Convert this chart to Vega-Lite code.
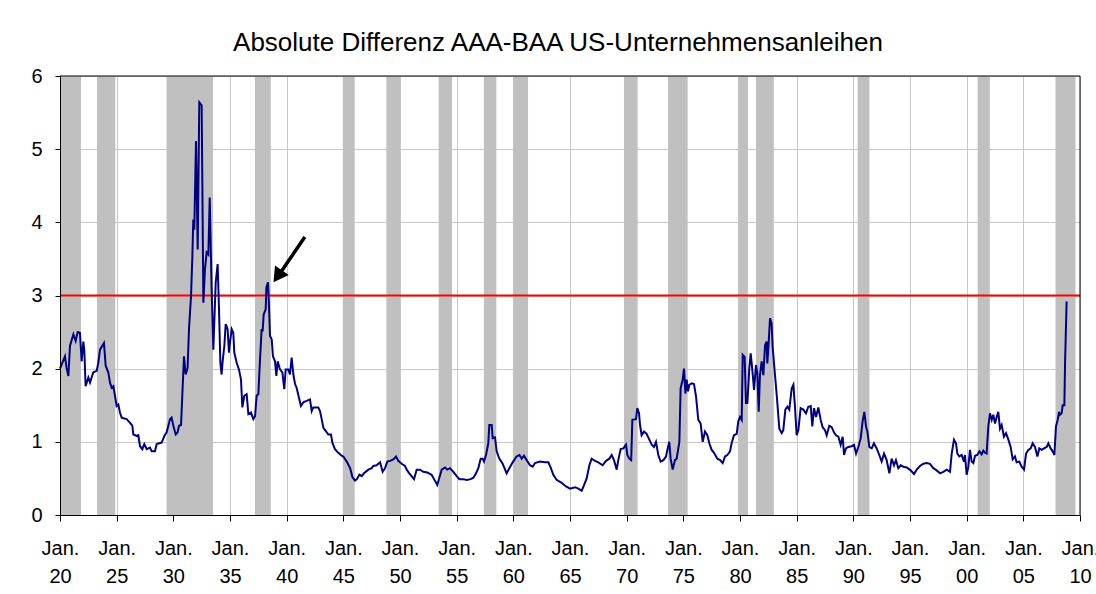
{
  "$schema": "https://vega.github.io/schema/vega-lite/v6.json",
  "width": 1020,
  "height": 439,
  "autosize": {"type": "none"},
  "padding": {"left": 60, "top": 76, "right": 16, "bottom": 79},
  "background": "white",
  "title": {
    "text": "Absolute Differenz AAA-BAA US-Unternehmensanleihen",
    "font": "Liberation Sans",
    "fontSize": 26,
    "fontWeight": "normal",
    "color": "black",
    "anchor": "middle",
    "frame": "group",
    "dx": -12,
    "baseline": "alphabetic",
    "offset": -11
  },
  "config": {
    "view": {"stroke": null},
    "axis": {"labelFont": "Liberation Sans", "labelColor": "black", "title": null}
  },
  "datasets": {
    "recessions": [
      {"start": 1920.0, "end": 1921.85},
      {"start": 1923.27, "end": 1924.88},
      {"start": 1929.4, "end": 1933.5},
      {"start": 1937.2, "end": 1938.6},
      {"start": 1944.95, "end": 1946.0},
      {"start": 1948.8, "end": 1950.03},
      {"start": 1953.41, "end": 1954.59},
      {"start": 1957.4, "end": 1958.5},
      {"start": 1960.0, "end": 1961.3},
      {"start": 1969.76, "end": 1970.97},
      {"start": 1973.65, "end": 1975.38},
      {"start": 1979.83, "end": 1980.7},
      {"start": 1981.41, "end": 1982.98},
      {"start": 1990.38, "end": 1991.42},
      {"start": 2000.97, "end": 2002.04},
      {"start": 2007.84, "end": 2009.6}
    ],
    "series": [
      {"t": 1920.0, "v": 2.0}, {"t": 1920.15, "v": 2.06}, {"t": 1920.44, "v": 2.17}, {"t": 1920.58, "v": 2.01},
      {"t": 1920.74, "v": 1.9}, {"t": 1920.88, "v": 2.31}, {"t": 1921.18, "v": 2.47}, {"t": 1921.38, "v": 2.38},
      {"t": 1921.56, "v": 2.5}, {"t": 1921.76, "v": 2.49}, {"t": 1921.91, "v": 2.1}, {"t": 1922.06, "v": 2.37},
      {"t": 1922.15, "v": 2.24}, {"t": 1922.26, "v": 1.76}, {"t": 1922.5, "v": 1.88}, {"t": 1922.65, "v": 1.81},
      {"t": 1922.79, "v": 1.88}, {"t": 1922.94, "v": 1.95}, {"t": 1923.24, "v": 1.97}, {"t": 1923.38, "v": 2.08},
      {"t": 1923.53, "v": 2.26}, {"t": 1923.88, "v": 2.35}, {"t": 1924.03, "v": 2.04}, {"t": 1924.26, "v": 1.95},
      {"t": 1924.41, "v": 1.81}, {"t": 1924.56, "v": 1.74}, {"t": 1924.71, "v": 1.76}, {"t": 1924.85, "v": 1.63},
      {"t": 1925.0, "v": 1.49}, {"t": 1925.15, "v": 1.51}, {"t": 1925.29, "v": 1.4}, {"t": 1925.44, "v": 1.33},
      {"t": 1925.88, "v": 1.31}, {"t": 1926.18, "v": 1.26}, {"t": 1926.38, "v": 1.22}, {"t": 1926.47, "v": 1.1},
      {"t": 1926.76, "v": 1.08}, {"t": 1926.91, "v": 1.09}, {"t": 1927.06, "v": 0.94}, {"t": 1927.26, "v": 0.9},
      {"t": 1927.44, "v": 0.97}, {"t": 1927.65, "v": 0.9}, {"t": 1927.94, "v": 0.92}, {"t": 1928.09, "v": 0.87},
      {"t": 1928.38, "v": 0.87}, {"t": 1928.53, "v": 0.97}, {"t": 1928.97, "v": 0.99}, {"t": 1929.21, "v": 1.08},
      {"t": 1929.41, "v": 1.13}, {"t": 1929.71, "v": 1.31}, {"t": 1929.85, "v": 1.33}, {"t": 1930.0, "v": 1.22},
      {"t": 1930.21, "v": 1.1}, {"t": 1930.38, "v": 1.13}, {"t": 1930.5, "v": 1.22}, {"t": 1930.68, "v": 1.23},
      {"t": 1930.79, "v": 1.63}, {"t": 1930.94, "v": 2.17}, {"t": 1931.09, "v": 1.92}, {"t": 1931.26, "v": 2.01},
      {"t": 1931.38, "v": 2.54}, {"t": 1931.56, "v": 2.99}, {"t": 1931.68, "v": 3.54}, {"t": 1931.76, "v": 4.04},
      {"t": 1931.85, "v": 3.9}, {"t": 1932.0, "v": 5.11}, {"t": 1932.15, "v": 3.63}, {"t": 1932.29, "v": 5.64},
      {"t": 1932.5, "v": 5.6}, {"t": 1932.65, "v": 2.9}, {"t": 1932.79, "v": 3.36}, {"t": 1932.94, "v": 3.59},
      {"t": 1933.09, "v": 3.56}, {"t": 1933.21, "v": 4.34}, {"t": 1933.38, "v": 3.08}, {"t": 1933.53, "v": 2.26},
      {"t": 1933.74, "v": 3.18}, {"t": 1933.91, "v": 3.43}, {"t": 1934.03, "v": 2.81}, {"t": 1934.15, "v": 2.08},
      {"t": 1934.26, "v": 1.92}, {"t": 1934.35, "v": 2.1}, {"t": 1934.5, "v": 2.31}, {"t": 1934.62, "v": 2.61},
      {"t": 1934.79, "v": 2.54}, {"t": 1934.91, "v": 2.22}, {"t": 1935.0, "v": 2.36}, {"t": 1935.15, "v": 2.54},
      {"t": 1935.29, "v": 2.49}, {"t": 1935.38, "v": 2.22}, {"t": 1935.59, "v": 2.08}, {"t": 1935.79, "v": 1.99},
      {"t": 1935.97, "v": 1.85}, {"t": 1936.09, "v": 1.47}, {"t": 1936.26, "v": 1.63}, {"t": 1936.47, "v": 1.65},
      {"t": 1936.62, "v": 1.38}, {"t": 1936.85, "v": 1.4}, {"t": 1937.06, "v": 1.31}, {"t": 1937.21, "v": 1.35},
      {"t": 1937.35, "v": 1.63}, {"t": 1937.5, "v": 1.65}, {"t": 1937.65, "v": 2.13}, {"t": 1937.79, "v": 2.54},
      {"t": 1937.88, "v": 2.51}, {"t": 1937.97, "v": 2.74}, {"t": 1938.15, "v": 2.81}, {"t": 1938.21, "v": 3.11},
      {"t": 1938.35, "v": 3.18}, {"t": 1938.44, "v": 2.86}, {"t": 1938.53, "v": 2.45}, {"t": 1938.68, "v": 2.4},
      {"t": 1938.79, "v": 2.17}, {"t": 1938.97, "v": 2.1}, {"t": 1939.09, "v": 1.9}, {"t": 1939.21, "v": 2.1},
      {"t": 1939.41, "v": 1.99}, {"t": 1939.62, "v": 1.95}, {"t": 1939.79, "v": 1.72}, {"t": 1939.91, "v": 1.99},
      {"t": 1940.15, "v": 1.99}, {"t": 1940.29, "v": 1.92}, {"t": 1940.44, "v": 2.15}, {"t": 1940.59, "v": 1.92},
      {"t": 1940.74, "v": 1.79}, {"t": 1940.88, "v": 1.74}, {"t": 1941.09, "v": 1.6}, {"t": 1941.26, "v": 1.49},
      {"t": 1941.47, "v": 1.54}, {"t": 1941.76, "v": 1.56}, {"t": 1942.06, "v": 1.58}, {"t": 1942.21, "v": 1.42},
      {"t": 1942.35, "v": 1.47}, {"t": 1942.56, "v": 1.47}, {"t": 1942.79, "v": 1.47}, {"t": 1942.94, "v": 1.42},
      {"t": 1943.09, "v": 1.31}, {"t": 1943.24, "v": 1.19}, {"t": 1943.44, "v": 1.15}, {"t": 1943.68, "v": 1.1},
      {"t": 1943.91, "v": 1.1}, {"t": 1944.03, "v": 0.99}, {"t": 1944.26, "v": 0.9}, {"t": 1944.56, "v": 0.85},
      {"t": 1944.85, "v": 0.81}, {"t": 1945.0, "v": 0.8}, {"t": 1945.3, "v": 0.73}, {"t": 1945.6, "v": 0.64},
      {"t": 1945.8, "v": 0.52}, {"t": 1946.03, "v": 0.47}, {"t": 1946.2, "v": 0.49}, {"t": 1946.41, "v": 0.55},
      {"t": 1946.62, "v": 0.53}, {"t": 1946.82, "v": 0.57}, {"t": 1947.21, "v": 0.62}, {"t": 1947.5, "v": 0.64},
      {"t": 1947.65, "v": 0.67}, {"t": 1947.94, "v": 0.68}, {"t": 1948.24, "v": 0.72}, {"t": 1948.47, "v": 0.59},
      {"t": 1948.68, "v": 0.64}, {"t": 1948.88, "v": 0.73}, {"t": 1949.12, "v": 0.74}, {"t": 1949.41, "v": 0.76},
      {"t": 1949.65, "v": 0.8}, {"t": 1949.85, "v": 0.74}, {"t": 1950.15, "v": 0.7}, {"t": 1950.44, "v": 0.67},
      {"t": 1950.59, "v": 0.62}, {"t": 1950.82, "v": 0.57}, {"t": 1951.24, "v": 0.49}, {"t": 1951.47, "v": 0.62},
      {"t": 1951.76, "v": 0.62}, {"t": 1952.06, "v": 0.59}, {"t": 1952.41, "v": 0.58}, {"t": 1952.79, "v": 0.55},
      {"t": 1953.0, "v": 0.49}, {"t": 1953.29, "v": 0.41}, {"t": 1953.47, "v": 0.51}, {"t": 1953.68, "v": 0.62},
      {"t": 1953.97, "v": 0.65}, {"t": 1954.18, "v": 0.62}, {"t": 1954.41, "v": 0.64}, {"t": 1954.71, "v": 0.59},
      {"t": 1955.0, "v": 0.53}, {"t": 1955.24, "v": 0.49}, {"t": 1955.59, "v": 0.49}, {"t": 1955.88, "v": 0.48},
      {"t": 1956.24, "v": 0.49}, {"t": 1956.47, "v": 0.51}, {"t": 1956.71, "v": 0.57}, {"t": 1956.91, "v": 0.64},
      {"t": 1957.12, "v": 0.77}, {"t": 1957.29, "v": 0.77}, {"t": 1957.41, "v": 0.73}, {"t": 1957.59, "v": 0.82},
      {"t": 1957.79, "v": 0.98}, {"t": 1957.88, "v": 1.23}, {"t": 1958.09, "v": 1.23}, {"t": 1958.18, "v": 1.05},
      {"t": 1958.38, "v": 1.06}, {"t": 1958.53, "v": 0.87}, {"t": 1958.76, "v": 0.77}, {"t": 1959.06, "v": 0.7},
      {"t": 1959.41, "v": 0.57}, {"t": 1959.65, "v": 0.64}, {"t": 1959.94, "v": 0.72}, {"t": 1960.29, "v": 0.8},
      {"t": 1960.53, "v": 0.82}, {"t": 1960.74, "v": 0.77}, {"t": 1960.94, "v": 0.81}, {"t": 1961.18, "v": 0.75},
      {"t": 1961.47, "v": 0.68}, {"t": 1961.71, "v": 0.66}, {"t": 1961.91, "v": 0.71}, {"t": 1962.35, "v": 0.73},
      {"t": 1962.79, "v": 0.72}, {"t": 1963.09, "v": 0.72}, {"t": 1963.29, "v": 0.65}, {"t": 1963.53, "v": 0.55},
      {"t": 1963.82, "v": 0.48}, {"t": 1964.26, "v": 0.44}, {"t": 1964.65, "v": 0.39}, {"t": 1965.0, "v": 0.36},
      {"t": 1965.44, "v": 0.38}, {"t": 1965.74, "v": 0.36}, {"t": 1966.03, "v": 0.33}, {"t": 1966.24, "v": 0.41},
      {"t": 1966.47, "v": 0.5}, {"t": 1966.71, "v": 0.68}, {"t": 1966.91, "v": 0.77}, {"t": 1967.21, "v": 0.74},
      {"t": 1967.5, "v": 0.72}, {"t": 1967.88, "v": 0.68}, {"t": 1968.18, "v": 0.74}, {"t": 1968.47, "v": 0.77},
      {"t": 1968.68, "v": 0.82}, {"t": 1968.88, "v": 0.75}, {"t": 1969.12, "v": 0.62}, {"t": 1969.26, "v": 0.75},
      {"t": 1969.47, "v": 0.9}, {"t": 1969.71, "v": 0.91}, {"t": 1969.94, "v": 0.96}, {"t": 1970.06, "v": 0.82},
      {"t": 1970.24, "v": 0.77}, {"t": 1970.4, "v": 0.75}, {"t": 1970.5, "v": 1.3}, {"t": 1970.82, "v": 1.31},
      {"t": 1970.94, "v": 1.46}, {"t": 1971.09, "v": 1.39}, {"t": 1971.18, "v": 1.23}, {"t": 1971.32, "v": 1.09},
      {"t": 1971.53, "v": 1.14}, {"t": 1971.76, "v": 1.11}, {"t": 1972.0, "v": 1.03}, {"t": 1972.21, "v": 0.96},
      {"t": 1972.41, "v": 0.93}, {"t": 1972.59, "v": 1.0}, {"t": 1972.79, "v": 0.82}, {"t": 1973.0, "v": 0.73},
      {"t": 1973.24, "v": 0.75}, {"t": 1973.47, "v": 0.8}, {"t": 1973.59, "v": 0.89}, {"t": 1973.76, "v": 1.0},
      {"t": 1973.88, "v": 0.77}, {"t": 1974.06, "v": 0.62}, {"t": 1974.26, "v": 0.75}, {"t": 1974.41, "v": 0.77},
      {"t": 1974.65, "v": 1.0}, {"t": 1974.76, "v": 1.73}, {"t": 1974.94, "v": 1.85}, {"t": 1975.06, "v": 2.0},
      {"t": 1975.18, "v": 1.66}, {"t": 1975.29, "v": 1.85}, {"t": 1975.41, "v": 1.69}, {"t": 1975.53, "v": 1.78},
      {"t": 1975.74, "v": 1.8}, {"t": 1975.94, "v": 1.79}, {"t": 1976.12, "v": 1.62}, {"t": 1976.32, "v": 1.3},
      {"t": 1976.53, "v": 1.25}, {"t": 1976.71, "v": 1.0}, {"t": 1976.91, "v": 1.14}, {"t": 1977.12, "v": 1.09},
      {"t": 1977.29, "v": 0.98}, {"t": 1977.5, "v": 0.89}, {"t": 1977.71, "v": 0.85}, {"t": 1978.0, "v": 0.77},
      {"t": 1978.24, "v": 0.75}, {"t": 1978.47, "v": 0.71}, {"t": 1978.68, "v": 0.8}, {"t": 1978.88, "v": 0.82},
      {"t": 1979.12, "v": 0.87}, {"t": 1979.26, "v": 0.98}, {"t": 1979.47, "v": 1.09}, {"t": 1979.71, "v": 1.11},
      {"t": 1979.85, "v": 1.28}, {"t": 1980.0, "v": 1.34}, {"t": 1980.15, "v": 1.3}, {"t": 1980.24, "v": 2.19},
      {"t": 1980.41, "v": 2.16}, {"t": 1980.53, "v": 1.53}, {"t": 1980.65, "v": 1.53}, {"t": 1980.82, "v": 2.0},
      {"t": 1980.94, "v": 2.21}, {"t": 1981.06, "v": 2.03}, {"t": 1981.24, "v": 1.71}, {"t": 1981.41, "v": 2.05},
      {"t": 1981.53, "v": 1.94}, {"t": 1981.65, "v": 1.41}, {"t": 1981.76, "v": 1.91}, {"t": 1981.91, "v": 2.1},
      {"t": 1982.06, "v": 1.91}, {"t": 1982.21, "v": 2.32}, {"t": 1982.35, "v": 2.37}, {"t": 1982.41, "v": 2.07},
      {"t": 1982.5, "v": 2.28}, {"t": 1982.65, "v": 2.69}, {"t": 1982.79, "v": 2.62}, {"t": 1982.88, "v": 2.3},
      {"t": 1983.09, "v": 1.91}, {"t": 1983.24, "v": 1.64}, {"t": 1983.47, "v": 1.18}, {"t": 1983.68, "v": 1.12},
      {"t": 1983.82, "v": 1.16}, {"t": 1984.0, "v": 1.44}, {"t": 1984.18, "v": 1.48}, {"t": 1984.35, "v": 1.44},
      {"t": 1984.56, "v": 1.73}, {"t": 1984.71, "v": 1.78}, {"t": 1984.85, "v": 1.48}, {"t": 1985.0, "v": 1.09},
      {"t": 1985.15, "v": 1.16}, {"t": 1985.35, "v": 1.46}, {"t": 1985.59, "v": 1.44}, {"t": 1985.82, "v": 1.39},
      {"t": 1986.03, "v": 1.48}, {"t": 1986.24, "v": 1.49}, {"t": 1986.38, "v": 1.21}, {"t": 1986.53, "v": 1.46},
      {"t": 1986.71, "v": 1.34}, {"t": 1986.91, "v": 1.47}, {"t": 1987.12, "v": 1.3}, {"t": 1987.29, "v": 1.2},
      {"t": 1987.5, "v": 1.16}, {"t": 1987.65, "v": 1.09}, {"t": 1987.88, "v": 1.22}, {"t": 1988.09, "v": 1.2},
      {"t": 1988.29, "v": 1.13}, {"t": 1988.47, "v": 1.09}, {"t": 1988.68, "v": 1.07}, {"t": 1988.88, "v": 0.96},
      {"t": 1989.06, "v": 1.07}, {"t": 1989.18, "v": 0.82}, {"t": 1989.35, "v": 0.91}, {"t": 1989.56, "v": 0.93},
      {"t": 1989.85, "v": 0.94}, {"t": 1990.06, "v": 0.96}, {"t": 1990.24, "v": 0.84}, {"t": 1990.44, "v": 0.93},
      {"t": 1990.65, "v": 1.05}, {"t": 1990.82, "v": 1.28}, {"t": 1990.97, "v": 1.41}, {"t": 1991.12, "v": 1.21},
      {"t": 1991.24, "v": 1.14}, {"t": 1991.41, "v": 0.93}, {"t": 1991.62, "v": 0.91}, {"t": 1991.82, "v": 0.98},
      {"t": 1992.06, "v": 0.91}, {"t": 1992.29, "v": 0.82}, {"t": 1992.5, "v": 0.73}, {"t": 1992.71, "v": 0.84},
      {"t": 1992.94, "v": 0.75}, {"t": 1993.18, "v": 0.57}, {"t": 1993.38, "v": 0.77}, {"t": 1993.59, "v": 0.68},
      {"t": 1993.76, "v": 0.75}, {"t": 1993.97, "v": 0.64}, {"t": 1994.18, "v": 0.68}, {"t": 1994.41, "v": 0.66},
      {"t": 1994.71, "v": 0.65}, {"t": 1995.06, "v": 0.61}, {"t": 1995.35, "v": 0.56}, {"t": 1995.59, "v": 0.62},
      {"t": 1995.88, "v": 0.67}, {"t": 1996.18, "v": 0.7}, {"t": 1996.47, "v": 0.71}, {"t": 1996.76, "v": 0.7},
      {"t": 1997.06, "v": 0.64}, {"t": 1997.35, "v": 0.61}, {"t": 1997.65, "v": 0.57}, {"t": 1997.94, "v": 0.59},
      {"t": 1998.24, "v": 0.62}, {"t": 1998.53, "v": 0.59}, {"t": 1998.68, "v": 0.84}, {"t": 1998.88, "v": 1.03},
      {"t": 1999.06, "v": 0.98}, {"t": 1999.18, "v": 0.84}, {"t": 1999.35, "v": 0.8}, {"t": 1999.56, "v": 0.82},
      {"t": 1999.76, "v": 0.73}, {"t": 1999.85, "v": 0.82}, {"t": 2000.0, "v": 0.55}, {"t": 2000.15, "v": 0.66},
      {"t": 2000.29, "v": 0.89}, {"t": 2000.44, "v": 0.73}, {"t": 2000.59, "v": 0.71}, {"t": 2000.74, "v": 0.81},
      {"t": 2000.94, "v": 0.82}, {"t": 2001.12, "v": 0.87}, {"t": 2001.32, "v": 0.83}, {"t": 2001.47, "v": 0.88},
      {"t": 2001.62, "v": 0.85}, {"t": 2001.76, "v": 0.84}, {"t": 2001.91, "v": 1.21}, {"t": 2002.06, "v": 1.39},
      {"t": 2002.21, "v": 1.3}, {"t": 2002.35, "v": 1.37}, {"t": 2002.5, "v": 1.25}, {"t": 2002.65, "v": 1.34},
      {"t": 2002.79, "v": 1.41}, {"t": 2002.94, "v": 1.18}, {"t": 2003.09, "v": 1.23}, {"t": 2003.29, "v": 1.07},
      {"t": 2003.47, "v": 1.12}, {"t": 2003.68, "v": 1.03}, {"t": 2003.88, "v": 0.93}, {"t": 2004.06, "v": 0.76},
      {"t": 2004.26, "v": 0.8}, {"t": 2004.41, "v": 0.72}, {"t": 2004.65, "v": 0.73}, {"t": 2004.85, "v": 0.66},
      {"t": 2005.06, "v": 0.62}, {"t": 2005.24, "v": 0.84}, {"t": 2005.44, "v": 0.89}, {"t": 2005.65, "v": 0.91},
      {"t": 2005.82, "v": 0.98}, {"t": 2006.03, "v": 0.93}, {"t": 2006.24, "v": 0.8}, {"t": 2006.41, "v": 0.91},
      {"t": 2006.62, "v": 0.89}, {"t": 2006.82, "v": 0.91}, {"t": 2007.06, "v": 0.93}, {"t": 2007.21, "v": 0.98},
      {"t": 2007.41, "v": 0.91}, {"t": 2007.59, "v": 0.87}, {"t": 2007.74, "v": 0.82}, {"t": 2007.88, "v": 1.21},
      {"t": 2008.03, "v": 1.3}, {"t": 2008.15, "v": 1.41}, {"t": 2008.24, "v": 1.37}, {"t": 2008.38, "v": 1.39},
      {"t": 2008.47, "v": 1.5}, {"t": 2008.62, "v": 1.5}, {"t": 2008.68, "v": 2.07}, {"t": 2008.82, "v": 2.92}
    ],
    "threshold": [{"level": 3}],
    "frame": [{"top": 6, "right": 2010}],
    "arrow": [{"x1": 1941.6, "y1": 3.8, "x2": 1939.45, "y2": 3.31, "tipx": 1939.33, "tipy": 3.29}]
  },
  "layer": [
    {
      "data": {"name": "recessions"},
      "mark": {"type": "rect", "color": "#c0c0c0"},
      "encoding": {
        "x": {
          "field": "start",
          "type": "quantitative",
          "scale": {"domain": [1920, 2010], "nice": false, "zero": false},
          "axis": {
            "orient": "top",
            "values": [1920, 1925, 1930, 1935, 1940, 1945, 1950, 1955, 1960, 1965, 1970, 1975, 1980, 1985, 1990, 1995, 2000, 2005, 2010],
            "grid": true,
            "gridColor": "#c8c8c8",
            "gridWidth": 1,
            "labels": false,
            "ticks": false,
            "domain": false,
            "zindex": 0
          }
        },
        "x2": {"field": "end"}
      }
    },
    {
      "data": {"name": "threshold"},
      "mark": {"type": "rule", "color": "#ff0000", "strokeWidth": 2},
      "encoding": {
        "y": {
          "field": "level",
          "type": "quantitative",
          "scale": {"domain": [0, 6], "nice": false},
          "axis": {
            "orient": "right",
            "values": [0, 1, 2, 3, 4, 5, 6],
            "grid": true,
            "gridColor": "#c8c8c8",
            "gridWidth": 1,
            "labels": false,
            "ticks": false,
            "domain": false,
            "zindex": 0
          }
        }
      }
    },
    {
      "data": {"name": "series"},
      "mark": {"type": "line", "color": "#000080", "strokeWidth": 2},
      "encoding": {
        "x": {
          "field": "t",
          "type": "quantitative",
          "scale": {"domain": [1920, 2010], "nice": false, "zero": false},
          "axis": {
            "orient": "bottom",
            "values": [1920, 1925, 1930, 1935, 1940, 1945, 1950, 1955, 1960, 1965, 1970, 1975, 1980, 1985, 1990, 1995, 2000, 2005, 2010],
            "labelExpr": "['Jan.', substring(toString(datum.value), 2, 4)]",
            "labelFontSize": 20,
            "labelLineHeight": 28,
            "labelAngle": 0,
            "labelAlign": "center",
            "labelBaseline": "top",
            "labelPadding": 17,
            "labelFlush": false,
            "labelOverlap": false,
            "labelBound": false,
            "tickSize": 6,
            "tickColor": "black",
            "domainColor": "black",
            "grid": false,
            "zindex": 1
          }
        },
        "y": {
          "field": "v",
          "type": "quantitative",
          "scale": {"domain": [0, 6], "nice": false},
          "axis": {
            "orient": "left",
            "values": [0, 1, 2, 3, 4, 5, 6],
            "labelFontSize": 20,
            "labelPadding": 13,
            "tickSize": 5,
            "tickColor": "black",
            "domainColor": "black",
            "grid": false,
            "zindex": 1
          }
        }
      }
    },
    {
      "data": {"name": "frame"},
      "mark": {"type": "rule", "color": "black", "strokeWidth": 1},
      "encoding": {"y": {"field": "top", "type": "quantitative", "axis": null}}
    },
    {
      "data": {"name": "frame"},
      "mark": {"type": "rule", "color": "black", "strokeWidth": 1},
      "encoding": {"x": {"field": "right", "type": "quantitative", "axis": null}}
    },
    {
      "data": {"name": "arrow"},
      "mark": {"type": "rule", "color": "black", "strokeWidth": 3.5},
      "encoding": {
        "x": {"field": "x1", "type": "quantitative", "axis": null},
        "y": {"field": "y1", "type": "quantitative", "axis": null},
        "x2": {"field": "x2"},
        "y2": {"field": "y2"}
      }
    },
    {
      "data": {"name": "arrow"},
      "mark": {"type": "point", "shape": "triangle", "filled": true, "color": "black", "opacity": 1, "size": 280, "angle": 215},
      "encoding": {
        "x": {"field": "tipx", "type": "quantitative", "axis": null},
        "y": {"field": "tipy", "type": "quantitative", "axis": null}
      }
    }
  ]
}
